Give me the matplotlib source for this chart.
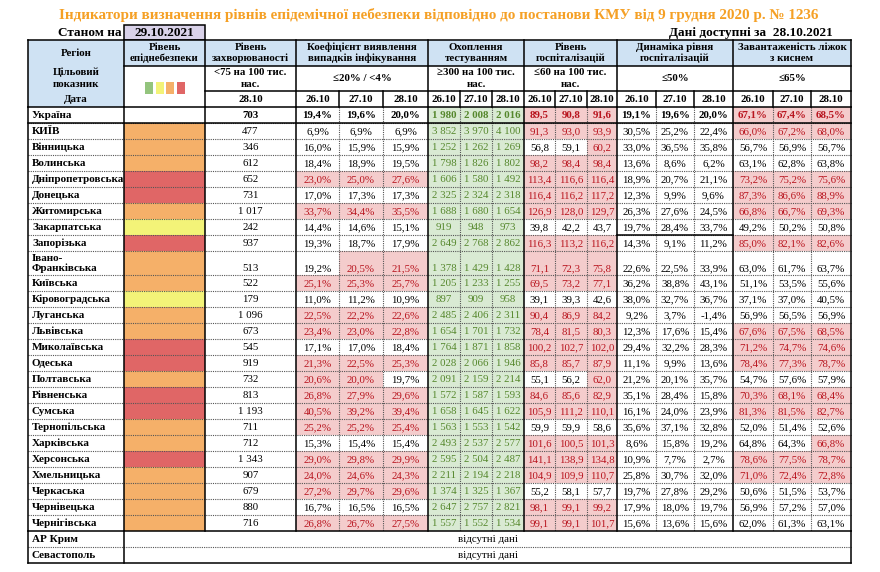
import matplotlib
matplotlib.use('Agg')
import matplotlib.pyplot as plt
from matplotlib.patches import Rectangle

plt.rcParams['font.family'] = ['Liberation Serif', 'DejaVu Serif']

# ---------------- data ----------------
title = "Індикатори визначення рівнів епідемічної небезпеки відповідно до постанови КМУ від 9 грудня 2020 р. № 1236"
as_of_label = "Станом на"
as_of_date = "29.10.2021"
data_available = "Дані доступні за  28.10.2021"
dates = ["26.10", "27.10", "28.10"]
inc_date = "28.10"

group_titles = ["Рівень\nзахворюваності", "Коефіцієнт виявлення\nвипадків інфікування",
                "Охоплення\nтестуванням", "Рівень\nгоспіталізацій",
                "Динаміка рівня\nгоспіталізацій", "Завантаженість ліжок\nз киснем"]
group_targets = ["<75 на 100 тис.\nнас.", "≤20% / <4%", "≥300 на 100 тис.\nнас.",
                 "≤60 на 100 тис.\nнас.", "≤50%", "≤65%"]

regions = ["Україна", "КИЇВ", "Вінницька", "Волинська", "Дніпропетровська", "Донецька",
           "Житомирська", "Закарпатська", "Запорізька", "Івано-\nФранківська", "Київська",
           "Кіровоградська", "Луганська", "Львівська", "Миколаївська", "Одеська", "Полтавська",
           "Рівненська", "Сумська", "Тернопільська", "Харківська", "Херсонська", "Хмельницька",
           "Черкаська", "Чернівецька", "Чернігівська"]
risk = ["", "o", "o", "o", "r", "r", "o", "y", "r", "o", "o", "y", "o", "o", "r", "r", "o",
        "r", "r", "o", "o", "r", "o", "o", "o", "o"]
incidence = [703, 477, 346, 612, 652, 731, 1017, 242, 937, 513, 522, 179, 1096, 673, 545,
             919, 732, 813, 1193, 711, 712, 1343, 907, 679, 880, 716]
coef = [[19.4, 19.6, 20.0], [6.9, 6.9, 6.9], [16.0, 15.9, 15.9], [18.4, 18.9, 19.5],
        [23.0, 25.0, 27.6], [17.0, 17.3, 17.3], [33.7, 34.4, 35.5], [14.4, 14.6, 15.1],
        [19.3, 18.7, 17.9], [19.2, 20.5, 21.5], [25.1, 25.3, 25.7], [11.0, 11.2, 10.9],
        [22.5, 22.2, 22.6], [23.4, 23.0, 22.8], [17.1, 17.0, 18.4], [21.3, 22.5, 25.3],
        [20.6, 20.0, 19.7], [26.8, 27.9, 29.6], [40.5, 39.2, 39.4], [25.2, 25.2, 25.4],
        [15.3, 15.4, 15.4], [29.0, 29.8, 29.9], [24.0, 24.6, 24.3], [27.2, 29.7, 29.6],
        [16.7, 16.5, 16.5], [26.8, 26.7, 27.5]]
coef_marked = ["000", "000", "000", "000", "111", "000", "111", "000", "000", "011", "111",
               "000", "111", "111", "000", "111", "110", "111", "111", "111", "000", "111",
               "111", "111", "000", "111"]
testing = [[1980, 2008, 2016], [3852, 3970, 4100], [1252, 1262, 1269], [1798, 1826, 1802],
           [1606, 1580, 1492], [2325, 2324, 2318], [1688, 1680, 1654], [919, 948, 973],
           [2649, 2768, 2862], [1378, 1429, 1428], [1205, 1233, 1255], [897, 909, 958],
           [2485, 2406, 2311], [1654, 1701, 1732], [1764, 1871, 1858], [2028, 2066, 1946],
           [2091, 2159, 2214], [1572, 1587, 1593], [1658, 1645, 1622], [1563, 1553, 1542],
           [2493, 2537, 2577], [2595, 2504, 2487], [2211, 2194, 2218], [1374, 1325, 1367],
           [2647, 2757, 2821], [1557, 1552, 1534]]
hosp = [[89.5, 90.8, 91.6], [91.3, 93.0, 93.9], [56.8, 59.1, 60.2], [98.2, 98.4, 98.4],
        [113.4, 116.6, 116.4], [116.4, 116.2, 117.2], [126.9, 128.0, 129.7], [39.8, 42.2, 43.7],
        [116.3, 113.2, 116.2], [71.1, 72.3, 75.8], [69.5, 73.2, 77.1], [39.1, 39.3, 42.6],
        [90.4, 86.9, 84.2], [78.4, 81.5, 80.3], [100.2, 102.7, 102.0], [85.8, 85.7, 87.9],
        [55.1, 56.2, 62.0], [84.6, 85.6, 82.9], [105.9, 111.2, 110.1], [59.9, 59.9, 58.6],
        [101.6, 100.5, 101.3], [141.1, 138.9, 134.8], [104.9, 109.9, 110.7], [55.2, 58.1, 57.7],
        [98.1, 99.1, 99.2], [99.1, 99.1, 101.7]]
dyn = [[19.1, 19.6, 20.0], [30.5, 25.2, 22.4], [33.0, 36.5, 35.8], [13.6, 8.6, 6.2],
       [18.9, 20.7, 21.1], [12.3, 9.9, 9.6], [26.3, 27.6, 24.5], [19.7, 28.4, 33.7],
       [14.3, 9.1, 11.2], [22.6, 22.5, 33.9], [36.2, 38.8, 43.1], [38.0, 32.7, 36.7],
       [9.2, 3.7, -1.4], [12.3, 17.6, 15.4], [29.4, 32.2, 28.3], [11.1, 9.9, 13.6],
       [21.2, 20.1, 35.7], [35.1, 28.4, 15.8], [16.1, 24.0, 23.9], [35.6, 37.1, 32.8],
       [8.6, 15.8, 19.2], [10.9, 7.7, 2.7], [25.8, 30.7, 32.0], [19.7, 27.8, 29.2],
       [17.9, 18.0, 19.7], [15.6, 13.6, 15.6]]
beds = [[67.1, 67.4, 68.5], [66.0, 67.2, 68.0], [56.7, 56.9, 56.7], [63.1, 62.8, 63.8],
        [73.2, 75.2, 75.6], [87.3, 86.6, 88.9], [66.8, 66.7, 69.3], [49.2, 50.2, 50.8],
        [85.0, 82.1, 82.6], [63.0, 61.7, 63.7], [51.1, 53.5, 55.6], [37.1, 37.0, 40.5],
        [56.9, 56.5, 56.9], [67.6, 67.5, 68.5], [71.2, 74.7, 74.6], [78.4, 77.3, 78.7],
        [54.7, 57.6, 57.9], [70.3, 68.1, 68.4], [81.3, 81.5, 82.7], [52.0, 51.4, 52.6],
        [64.8, 64.3, 66.8], [78.6, 77.5, 78.7], [71.0, 72.4, 72.8], [50.6, 51.5, 53.7],
        [56.9, 57.2, 57.0], [62.0, 61.3, 63.1]]
hosp_limit = 60.0
beds_limit = 65.0
no_data_regions = ["АР Крим", "Севастополь"]
no_data_text = "відсутні дані"

# ---------------- style ----------------
C_TITLE = '#F5A025'
C_HEAD = '#CFE2F3'
C_DATEBOX = '#D9D2E9'
C_PINK = '#F4CCCC'
C_RED_T = '#B8141E'
C_GREEN = '#D9EAD3'
C_GREEN_T = '#55872C'
RISK_C = {'o': '#F5B069', 'r': '#E06666', 'y': '#F3F378', 'g': '#93C47D', '': 'white'}
DOT = (0, (1, 1))

XE = [28, 124, 205, 296, 339, 383, 428, 460, 492, 524, 555, 587, 617, 656, 694, 733, 773, 811, 851]
GROUP_EDGES = [205, 296, 428, 524, 617, 733, 851]
H1, H2, H3, H4 = 40, 66, 91, 107
row_h = [24 if '\n' in r else 16 for r in regions]
RS = 8.0  # region name font size

fig = plt.figure(figsize=(8.8, 5.72), dpi=100)
ax = fig.add_axes([0, 0, 1, 1])
ax.set_xlim(0, 880)
ax.set_ylim(572, 0)
ax.axis('off')

def rect(x0, x1, y0, y1, fc, ec='none', lw=0):
    ax.add_patch(Rectangle((x0, y0), x1 - x0, y1 - y0, facecolor=fc, edgecolor=ec, lw=lw, zorder=1))

def hl(y, x0, x1, solid=True):
    if solid:
        ax.plot([x0, x1], [y, y], color='black', lw=1.1, zorder=3, solid_capstyle='projecting')
    else:
        ax.plot([x0, x1], [y, y], color='#555555', lw=0.8, ls=DOT, zorder=2)

def vl(x, y0, y1, solid=True):
    if solid:
        ax.plot([x, x], [y0, y1], color='black', lw=1.1, zorder=3, solid_capstyle='projecting')
    else:
        ax.plot([x, x], [y0, y1], color='#555555', lw=0.8, ls=DOT, zorder=2)

def txt(x, y, s, size=7.8, bold=False, color='black', ha='center', ls=1.15):
    ax.text(x, y, s, fontsize=size, fontweight='bold' if bold else 'normal', color=color,
            ha=ha, va='center', zorder=4, linespacing=ls)

def fmt_dec(v):
    return f"{v:.1f}".replace('.', ',')

def fmt_pct(v):
    return fmt_dec(v) + '%'

def fmt_int(v):
    return f"{v:,}".replace(',', ' ')

# ---------------- title / top ----------------
txt(439, 15, title, size=10.9, bold=True, color=C_TITLE)
txt(122, 33, as_of_label, size=9.5, bold=True, ha='right')
rect(XE[1], XE[2], 25, H1, C_DATEBOX, ec='black', lw=1.1)
txt((XE[1] + XE[2]) / 2, 32.5, as_of_date, size=9.5, bold=True)
txt(833, 33, data_available, size=9.5, bold=True, ha='right')

# ---------------- header ----------------
rect(XE[0], XE[1], H1, H4, C_HEAD)
rect(XE[1], XE[-1], H1, H2, C_HEAD)
hs = 7.8
txt((XE[0] + XE[1]) / 2, 53, "Регіон", size=hs, bold=True)
txt((XE[0] + XE[1]) / 2, 78.5, "Цільовий\nпоказник", size=hs, bold=True, ls=1.4)
txt((XE[0] + XE[1]) / 2, 100, "Дата", size=hs, bold=True)
txt((XE[1] + XE[2]) / 2, 53, "Рівень\nепіднебезпеки", size=hs, bold=True)
for k, c in enumerate(['g', 'y', 'o', 'r']):
    x0 = 145 + k * 10.7
    rect(x0, x0 + 8, 82, 94, RISK_C[c])
for gi in range(6):
    x0, x1 = GROUP_EDGES[gi], GROUP_EDGES[gi + 1]
    txt((x0 + x1) / 2, 53, group_titles[gi], size=hs, bold=True)
    txt((x0 + x1) / 2, 78.5, group_targets[gi], size=hs, bold=True, ls=1.3)
txt((XE[2] + XE[3]) / 2, 99.5, inc_date, size=hs, bold=True)
for ci in range(3, 18):
    txt((XE[ci] + XE[ci + 1]) / 2, 99.5, dates[(ci - 3) % 3], size=hs, bold=True)

hl(H1, XE[0], XE[-1])
hl(H2, XE[1], XE[-1])
hl(H3, XE[2], XE[-1])
hl(H4, XE[0], XE[-1])
for x in [XE[0], XE[1]] + GROUP_EDGES:
    vl(x, H1, H4)
for ci in range(3, 18):
    if XE[ci] not in GROUP_EDGES:
        vl(XE[ci], H3, H4)

# ---------------- body ----------------
y = H4
row_tops = []
for ri, name in enumerate(regions):
    h = row_h[ri]
    y0, y1 = y, y + h
    row_tops.append(y0)
    yc = (y0 + y1) / 2 + 0.5
    bold = ri == 0
    rect(XE[1], XE[2], y0, y1, RISK_C[risk[ri]])
    if '\n' in name:
        txt(32, yc, name, size=RS, bold=True, ha='left', ls=1.02)
        vy = yc + 5
    else:
        txt(32, yc, name, size=RS, bold=True, ha='left')
        vy = yc
    txt((XE[2] + XE[3]) / 2, vy, fmt_int(incidence[ri]), bold=bold)
    for j in range(3):
        # coefficient
        ci = 3 + j
        xc = (XE[ci] + XE[ci + 1]) / 2
        mark = coef_marked[ri][j] == '1'
        if mark:
            rect(XE[ci], XE[ci + 1], y0, y1, C_PINK)
        txt(xc, vy, fmt_pct(coef[ri][j]), bold=bold, color=C_RED_T if mark else 'black')
        # testing
        ci = 6 + j
        xc = (XE[ci] + XE[ci + 1]) / 2
        rect(XE[ci], XE[ci + 1], y0, y1, C_GREEN)
        txt(xc, vy, fmt_int(testing[ri][j]), bold=bold, color=C_GREEN_T)
        # hospitalization
        ci = 9 + j
        xc = (XE[ci] + XE[ci + 1]) / 2
        mark = hosp[ri][j] > hosp_limit
        if mark:
            rect(XE[ci], XE[ci + 1], y0, y1, C_PINK)
        txt(xc, vy, fmt_dec(hosp[ri][j]), bold=bold, color=C_RED_T if mark else 'black')
        # dynamics
        ci = 12 + j
        xc = (XE[ci] + XE[ci + 1]) / 2
        txt(xc, vy, fmt_pct(dyn[ri][j]), bold=bold)
        # beds
        ci = 15 + j
        xc = (XE[ci] + XE[ci + 1]) / 2
        mark = beds[ri][j] > beds_limit
        if mark:
            rect(XE[ci], XE[ci + 1], y0, y1, C_PINK)
        txt(xc, vy, fmt_pct(beds[ri][j]), bold=bold, color=C_RED_T if mark else 'black')
    if ri > 0:
        hl(y0, XE[0], XE[-1], solid=False)
    y = y1
body_end = y

for x in [XE[0], XE[1]] + GROUP_EDGES:
    vl(x, H4, body_end)
for ci in range(3, 18):
    if XE[ci] not in GROUP_EDGES:
        vl(XE[ci], H4, body_end, solid=False)
hl(row_tops[1], XE[0], XE[-1])
hl(row_tops[8], XE[12], XE[15])
hl(body_end, XE[0], XE[-1])

# ---------------- no data rows ----------------
y = body_end
for k, name in enumerate(no_data_regions):
    y0, y1 = y, y + 16
    yc = (y0 + y1) / 2 + 0.5
    txt(32, yc, name, size=RS, bold=True, ha='left')
    txt((XE[1] + XE[-1]) / 2, yc, no_data_text, size=7.8)
    if k > 0:
        hl(y0, XE[0], XE[-1], solid=False)
    y = y1
hl(y, XE[0], XE[-1])
for x in [XE[0], XE[1], XE[-1]]:
    vl(x, body_end, y)

fig.savefig('out.png', dpi=100)
